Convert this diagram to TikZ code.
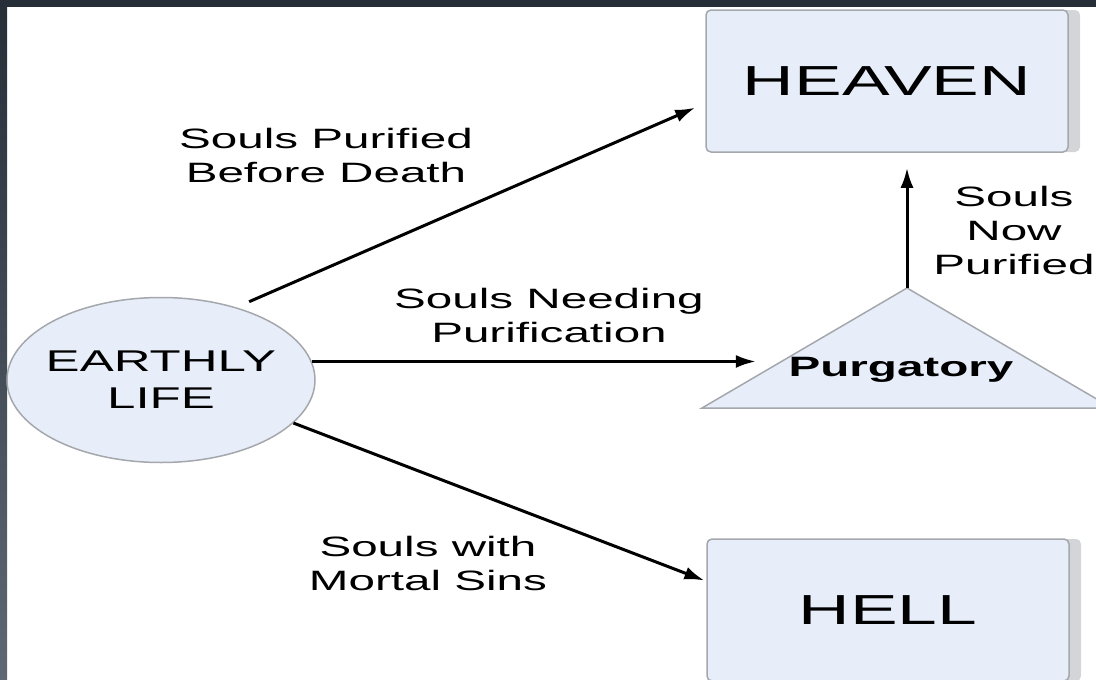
\documentclass[tikz,border=0pt]{standalone}
\usepackage{fontspec}
\setmainfont{Liberation Sans}[FakeStretch=1.7]
\usetikzlibrary{arrows.meta,shapes.geometric,shadows}

\definecolor{paleblue}{HTML}{E8EEF9}
\definecolor{rimgrey}{HTML}{A4A7AC}
\definecolor{shadegrey}{HTML}{D3D5D9}
\definecolor{framedark}{HTML}{262E38}
\definecolor{framelight}{HTML}{5E6873}

\tikzset{
	realm/.style={draw=rimgrey,fill=paleblue,line width=1.5pt,rounded corners=5pt,minimum width=362pt,minimum height=142pt,font=\fontsize{42}{50}\selectfont,drop shadow={shadow xshift=12pt,shadow yshift=0pt,fill=shadegrey,opacity=1}},
	flow/.style={line width=3pt,-{Latex[length=20pt,width=13pt]}},
	fate/.style={align=center,font=\fontsize{28}{34}\selectfont},
}

\begin{document}
\begin{tikzpicture}[x=1pt,y=-1pt]
	\useasboundingbox (0,0) rectangle (1096,680);
	\clip (0,0) rectangle (1096,680);
	% dark frame
	\fill[framedark] (0,0) rectangle (1096,7);
	\shade[top color=framedark,bottom color=framelight] (0,0) rectangle (7,680);
	% places
	\node[realm] (heaven) at (887,81) {HEAVEN};
	\node[realm] (hell) at (888,610) {HELL};
	\node[ellipse,draw=rimgrey,fill=paleblue,line width=1.5pt,inner xsep=-9pt,inner ysep=0pt,minimum width=308pt,minimum height=165pt,align=center,font=\fontsize{30}{37}\selectfont] (life) at (161,380) {EARTHLY\\LIFE};
	\draw[rimgrey,fill=paleblue,line width=1.5pt] (702,408) -- (907,288) coordinate (apex) -- (1112,408) -- cycle;
	\node[font=\bfseries\fontsize{28}{34}\selectfont] (purgatory) at (901,370) {Purgatory};
	% paths of the souls
	\draw[flow,shorten <=14pt,shorten >=11pt] (life.44) -- (heaven.187);
	\draw[flow] (life.7) -- ++(444,0);
	\draw[flow,shorten >=2pt] (life.-18) -- (hell.171);
	\draw[flow,shorten >=15pt] (apex) -- (apex |- heaven.south);
	\node[fate] (pure) at (326,155) {Souls Purified\\Before Death};
	\node[fate] (needing) at (549,315) {Souls Needing\\Purification};
	\node[fate] (mortal) at (428,563) {Souls with\\Mortal Sins};
	\node[fate] (now) at (1014,230) {Souls\\Now\\Purified};
\end{tikzpicture}
\end{document}
